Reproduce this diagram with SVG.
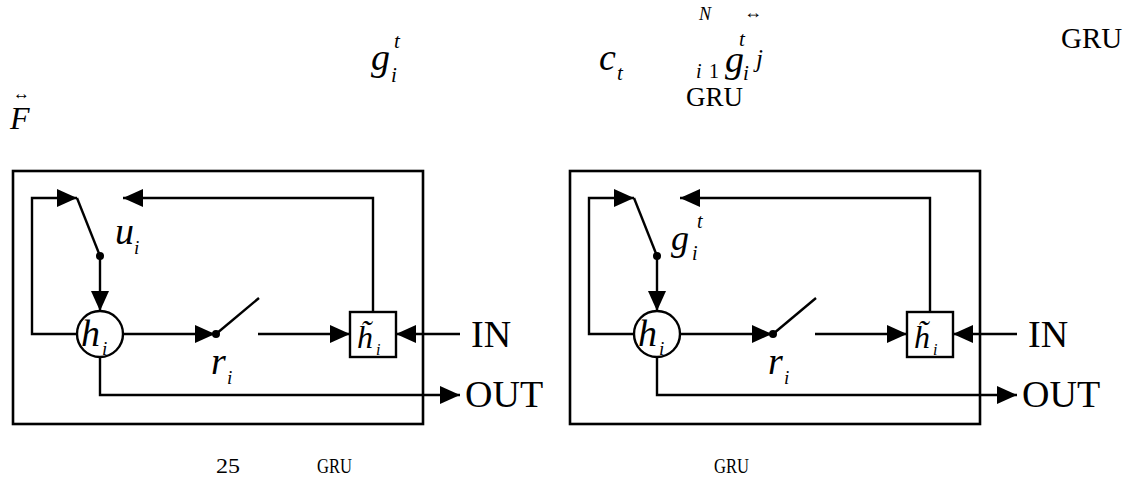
<svg xmlns="http://www.w3.org/2000/svg" width="1126" height="480" viewBox="0 0 1126 480">
<style>
.ln{fill:none;stroke:#000;stroke-width:2.4}
.bx{fill:none;stroke:#000;stroke-width:2.6}
.mi{font-family:"Liberation Serif",serif;font-style:italic;fill:#000}
.rm{font-family:"Liberation Serif",serif;fill:#000}
.cap{font-family:"Liberation Serif",serif;fill:#000;font-size:21px}
</style>
<defs>
<marker id="ah" markerUnits="userSpaceOnUse" markerWidth="22" markerHeight="20" refX="20" refY="9" orient="auto">
<path d="M0,0 L20,9 L0,18 z" fill="#000"/>
</marker>
</defs>
<g id="header">
<text class="mi" x="371" y="70" font-size="38">g</text>
<text class="mi" x="394" y="48" font-size="21">t</text>
<text class="mi" x="391" y="82" font-size="21">i</text>
<text class="mi" x="599" y="70" font-size="38">c</text>
<text class="mi" x="617" y="80" font-size="21">t</text>
<text class="mi" x="699" y="20" font-size="18">N</text>
<text class="mi" x="696" y="78" font-size="20">i</text>
<text class="rm" x="709" y="78" font-size="20">1</text>
<text class="mi" x="725" y="72" font-size="38">g</text>
<text class="mi" x="739" y="46" font-size="21">t</text>
<text class="mi" x="743" y="80" font-size="21">i</text>
<text class="rm" x="744" y="18" font-size="18">↔</text>
<text class="mi" x="756" y="67" font-size="25">j</text>
<text class="rm" x="1061" y="48" font-size="29">GRU</text>
<text class="rm" x="686" y="106" font-size="27">GRU</text>
<text class="rm" x="13" y="99" font-size="17">↔</text>
<text class="mi" x="10" y="129" font-size="32">F</text>
</g>
<g id="left-panel">
<rect id="left-frame" class="bx" x="13" y="171" width="410" height="253"/>
<g id="left-connectors">
<path class="ln" d="M77,334 H32 V198 H77" marker-end="url(#ah)"/>
<line class="ln" x1="77" y1="198" x2="100" y2="256"/>
<path class="ln" d="M100,256 V311" marker-end="url(#ah)"/>
<path class="ln" d="M123,334 H215" marker-end="url(#ah)"/>
<line class="ln" x1="216" y1="334" x2="259" y2="298"/>
<path class="ln" d="M258,334 H350" marker-end="url(#ah)"/>
<path class="ln" d="M373,312 V198 H123" marker-end="url(#ah)"/>
<path class="ln" d="M460,334 H396" marker-end="url(#ah)"/>
<path class="ln" d="M100,357 V395 H460" marker-end="url(#ah)"/>
<circle cx="100" cy="256" r="4" fill="#000"/>
<circle cx="216" cy="334" r="4" fill="#000"/>
</g>
<g id="left-h">
<circle class="ln" cx="100" cy="334" r="23" fill="#fff"/>
<text class="mi" x="81" y="346" font-size="38">h</text>
<text class="mi" x="102" y="355" font-size="19">i</text>
</g>
<g id="left-htilde">
<rect class="ln" x="350" y="312" width="46" height="45" fill="#fff"/>
<text class="mi" x="357" y="348" font-size="32">h̃</text>
<text class="mi" x="376" y="355" font-size="16">i</text>
</g>
<g id="left-u">
<text class="mi" x="115" y="244" font-size="38">u</text>
<text class="mi" x="134" y="254" font-size="19">i</text>
</g>
<g id="left-r">
<text class="mi" x="211" y="374" font-size="38">r</text>
<text class="mi" x="227" y="384" font-size="19">i</text>
</g>
<text class="rm" x="471" y="347" font-size="38">IN</text>
<text class="rm" x="465" y="407" font-size="38">OUT</text>
</g>
<g id="right-panel">
<rect id="right-frame" class="bx" x="570" y="171" width="410" height="253"/>
<g id="right-connectors">
<path class="ln" d="M634,334 H589 V198 H634" marker-end="url(#ah)"/>
<line class="ln" x1="634" y1="198" x2="657" y2="256"/>
<path class="ln" d="M657,256 V311" marker-end="url(#ah)"/>
<path class="ln" d="M680,334 H772" marker-end="url(#ah)"/>
<line class="ln" x1="773" y1="334" x2="816" y2="298"/>
<path class="ln" d="M815,334 H907" marker-end="url(#ah)"/>
<path class="ln" d="M930,312 V198 H680" marker-end="url(#ah)"/>
<path class="ln" d="M1017,334 H953" marker-end="url(#ah)"/>
<path class="ln" d="M657,357 V395 H1017" marker-end="url(#ah)"/>
<circle cx="657" cy="256" r="4" fill="#000"/>
<circle cx="773" cy="334" r="4" fill="#000"/>
</g>
<g id="right-h">
<circle class="ln" cx="657" cy="334" r="23" fill="#fff"/>
<text class="mi" x="638" y="346" font-size="38">h</text>
<text class="mi" x="659" y="355" font-size="19">i</text>
</g>
<g id="right-htilde">
<rect class="ln" x="907" y="312" width="46" height="45" fill="#fff"/>
<text class="mi" x="914" y="348" font-size="32">h̃</text>
<text class="mi" x="933" y="355" font-size="16">i</text>
</g>
<g id="right-g">
<text class="mi" x="671" y="250" font-size="36">g</text>
<text class="mi" x="697" y="228" font-size="20">t</text>
<text class="mi" x="692" y="260" font-size="20">i</text>
</g>
<g id="right-r">
<text class="mi" x="768" y="374" font-size="38">r</text>
<text class="mi" x="784" y="384" font-size="19">i</text>
</g>
<text class="rm" x="1028" y="347" font-size="38">IN</text>
<text class="rm" x="1022" y="407" font-size="38">OUT</text>
</g>
<g id="captions">
<text class="cap" x="216" y="473" textLength="24" lengthAdjust="spacingAndGlyphs">25</text>
<text class="cap" x="317" y="473" textLength="35" lengthAdjust="spacingAndGlyphs">GRU</text>
<text class="cap" x="714" y="473" textLength="35" lengthAdjust="spacingAndGlyphs">GRU</text>
</g>
</svg>
